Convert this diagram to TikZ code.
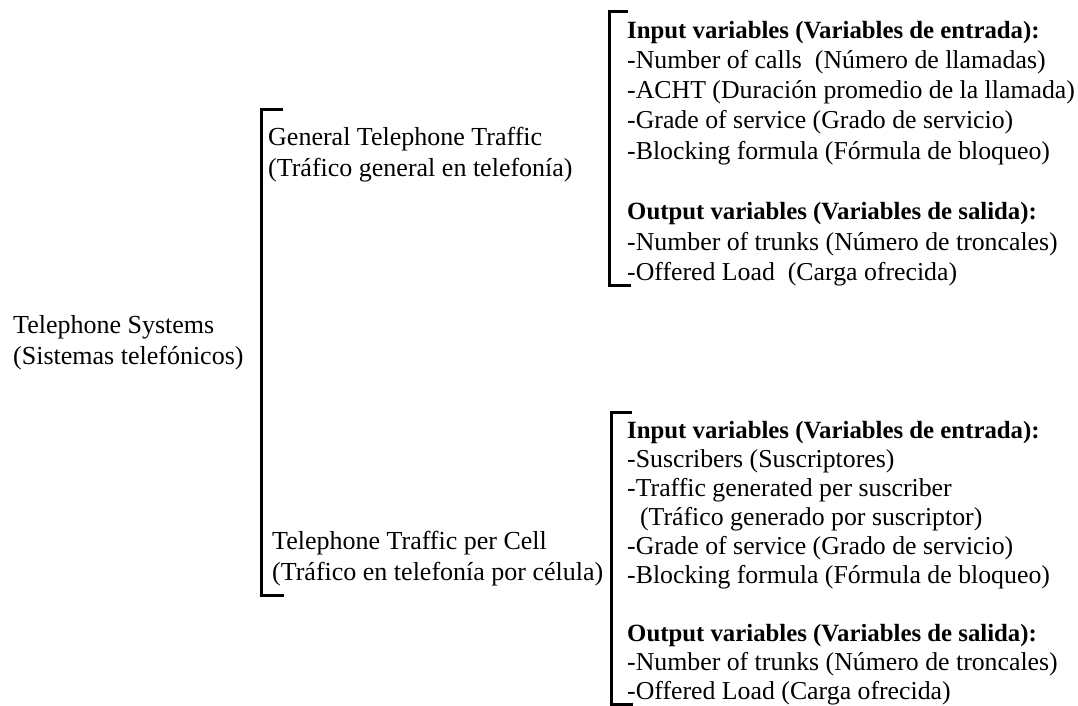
\documentclass[tikz,border=0pt]{standalone}
\usepackage{fontspec}
\setmainfont{Liberation Serif}
\newcommand{\hdr}[1]{{\fontsize{24.8}{24.8}\selectfont\bfseries #1}}
\begin{document}
\begin{tikzpicture}[x=1pt,y=-1pt,
  lbl/.style={anchor=base west,inner sep=0pt,align=left,font=\fontsize{26}{31}\selectfont},
  blk/.style={anchor=base west,inner sep=0pt,align=left},
  brk/.style={line width=3pt,line join=miter}]
\useasboundingbox (0,0) rectangle (1078,706);
\fill[white] (0,0) rectangle (1078,706);
% left labels (anchor = baseline of last line)
\node[lbl] (sys) at (13,364) {Telephone Systems\\(Sistemas telefónicos)};
\node[lbl] (gen) at (268,176) {General Telephone Traffic\\(Tráfico general en telefonía)};
\node[lbl] (cell) at (272,580) {Telephone Traffic per Cell\\(Tráfico en telefonía por célula)};
% right blocks
\node[blk,font=\fontsize{25.8}{30.3}\selectfont] (genvars) at (627,280.4) {\hdr{Input variables (Variables de entrada):}\\
-Number of calls\ \ (Número de llamadas)\\
-ACHT (Duración promedio de la llamada)\\
-Grade of service (Grado de servicio)\\
-Blocking formula (Fórmula de bloqueo)\\[30.3pt]
\hdr{Output variables (Variables de salida):}\\
-Number of trunks (Número de troncales)\\
-Offered Load\ \ (Carga ofrecida)};
\node[blk,font=\fontsize{25.8}{29}\selectfont] (cellvars) at (627,699) {\hdr{Input variables (Variables de entrada):}\\
-Suscribers (Suscriptores)\\
-Traffic generated per suscriber\\
\ \ (Tráfico generado por suscriptor)\\
-Grade of service (Grado de servicio)\\
-Blocking formula (Fórmula de bloqueo)\\[29pt]
\hdr{Output variables (Variables de salida):}\\
-Number of trunks (Número de troncales)\\
-Offered Load (Carga ofrecida)};
% brackets
\coordinate (b1t) at (261,110); \coordinate (b1b) at (261,595);
\draw[brk] ([xshift=22pt]b1t) -- (b1t) -- (b1b) -- ([xshift=23pt]b1b);
\coordinate (b2t) at (609,12); \coordinate (b2b) at (609,285);
\draw[brk] ([xshift=19pt]b2t) -- (b2t) -- (b2b) -- ([xshift=22pt]b2b);
\coordinate (b3t) at (611,412); \coordinate (b3b) at (611,704.5);
\draw[brk] ([xshift=21pt]b3t) -- (b3t) -- (b3b) -- ([xshift=22pt]b3b);
\end{tikzpicture}
\end{document}
